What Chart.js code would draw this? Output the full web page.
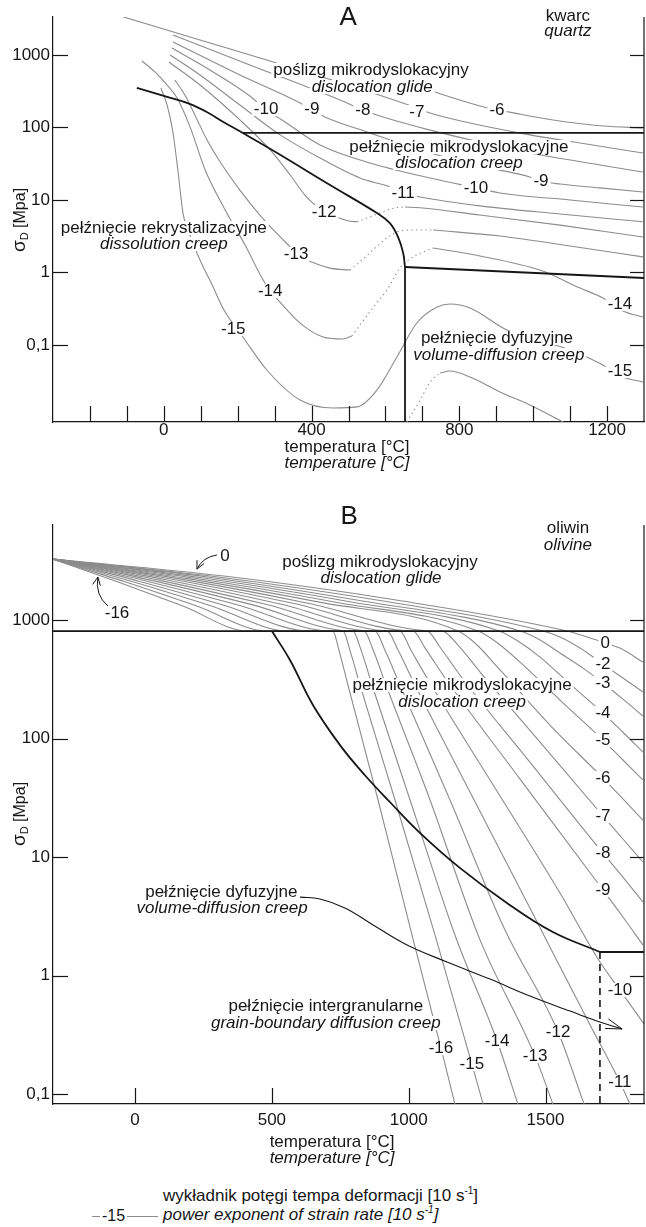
<!DOCTYPE html>
<html lang="pl">
<head>
<meta charset="UTF-8">
<title>Mapy mechanizmów deformacji – kwarc i oliwin</title>
<script src="https://cdn.jsdelivr.net/npm/chart.js"></script>
<style>
  html, body { margin: 0; padding: 0; background: #fff; }
  body { position: relative; width: 646px; height: 1227px; overflow: hidden;
         font-family: "Liberation Sans Narrow", "Liberation Sans", Arial, sans-serif; color: #161616; }
  #mapA { position: absolute; left: 0; top: 0; }
  #mapB { position: absolute; left: 0; top: 480px; }
  #keyLine { position: absolute; left: 92px; top: 1216px; width: 66px; height: 1px; background: #8c8c8c; }
  #keyNum { position: absolute; left: 100px; top: 1206px; font-size: 16px; line-height: 20px; background: #fff; padding: 0 2px; }
  #keyText { position: absolute; left: 163px; top: 1186px; font-size: 17px; line-height: 19px; }
  #keyText sup { font-size: 10px; vertical-align: 7px; line-height: 0; }
</style>
</head>
<body>
<canvas id="mapA" width="646" height="480"></canvas>
<canvas id="mapB" width="646" height="700"></canvas>
<div id="keyLine"></div><div id="keyNum">-15</div>
<div id="keyText">
  <div>wykładnik potęgi tempa deformacji [10 s<sup>-1</sup>]</div>
  <div><i>power exponent of strain rate [10 s<sup>-1</sup>]</i></div>
</div>
<script>
// ===== A: kwarc / quartz  (temperature °C, stress MPa) =====
const quartzStressTicks = [0.1, 1, 10, 100, 1000];
const quartzTempTicks = [-200, -100, 0, 100, 200, 300, 400, 500, 600, 700, 800, 900, 1000, 1100, 1200];
const quartzTempLabels = [0, 400, 800, 1200];

const quartzGlideBoundary = [[214, 84], [1300, 84]];
const quartzCreepBoundary = [[-73, 351], [9, 264], [70, 212], [120, 160], [160, 120], [214, 84], [307, 44.5], [450, 16.1],
  [577, 6.6], [612, 4.8], [634, 3.1], [648, 1.86], [653, 1.19]];
const quartzDiffBoundaryV = [[653, 1.19], [653, 0.0087]];
const quartzDiffBoundaryH = [[653, 1.19], [1300, 0.84]];

const quartzRate6 = [[667, 400], [856, 198], [964, 153], [1054, 127], [1189, 105], [1297, 98.5]];
const quartzRate7 = [[-127, 3565], [98, 1611], [323, 728], [566, 299], [685, 186], [721, 158], [829, 115], [991, 79], [1127, 61], [1297, 44.5]];
const quartzRate8 = [[25, 1888], [233, 728], [477, 239], [539, 174], [585, 144], [721, 92], [856, 63], [1018, 42], [1181, 30.4], [1297, 24.3]];
const quartzRate9 = [[25, 1510], [206, 530], [369, 218], [401, 174], [436, 140], [558, 84], [694, 49], [856, 29.4], [991, 20.8],
  [1021, 18.3], [1073, 16.6], [1181, 14.7], [1297, 12.9]];
const quartzRate10 = [[22, 1250], [125, 621], [233, 272], [277, 174], [320, 127], [423, 57.4], [558, 32.4], [721, 20.1], [845, 14.7],
  [910, 12.5], [1100, 10], [1297, 8.0]];
const quartzRate11 = [[17, 1000], [98, 530], [206, 204], [315, 79], [423, 37.9], [531, 20.1], [620, 14.7], [648, 12.5], [694, 11.0],
  [856, 8.3], [1073, 6.4], [1297, 5.0]];
const quartzRate12a = [[14, 800], [98, 385], [206, 127], [288, 49], [342, 22.1], [382, 11.7], [412, 8.3], [434, 6.8], [469, 5.8], [504, 5.1], [523, 5.0]];
const quartzRate12Dots = [[523, 5.0], [545, 5.5], [585, 6.6], [626, 7.8], [653, 8.0]];
const quartzRate12b = [[653, 8.0], [694, 7.8], [856, 6.2], [1073, 4.5], [1297, 3.09]];
const quartzRate13a = [[30, 452], [57, 281], [84, 149], [117, 67.3], [158, 30.4], [206, 13.7], [260, 6.2], [315, 3.09], [342, 2.25],
  [358, 1.8], [388, 1.49], [450, 1.15], [504, 1.08]];
const quartzRate13Dots = [[504, 1.08], [531, 1.40], [572, 2.18], [604, 3.0], [639, 3.73], [680, 3.86], [729, 3.86]];
const quartzRate13b = [[729, 3.86], [910, 3.19], [1100, 2.32], [1297, 1.64]];
const quartzRate14a = [[-59, 826], [-24, 583], [9, 385], [36, 255], [71, 102], [112, 25.9], [166, 7.3], [220, 2.39], [266, 0.84],
  [288, 0.556], [309, 0.42], [369, 0.20], [431, 0.129], [485, 0.121], [509, 0.133]];
const quartzRate14Dots = [[509, 0.133], [531, 0.189], [572, 0.356], [604, 0.57], [639, 1.15], [675, 1.64], [729, 2.18]];
const quartzRate14b = [[729, 2.18], [856, 1.69], [1018, 1.08], [1127, 0.61], [1189, 0.445], [1243, 0.294], [1297, 0.243]];
const quartzRate15 = [[-8, 351], [9, 204], [25, 84], [38, 25.9], [52, 6.6], [76, 2.81], [98, 1.49], [131, 0.67], [163, 0.304],
  [214, 0.129], [279, 0.0452], [369, 0.0174], [458, 0.0135], [523, 0.0140], [577, 0.0239], [631, 0.0683], [685, 0.201],
  [740, 0.334], [775, 0.368], [829, 0.324], [929, 0.161], [1100, 0.0853], [1189, 0.0531], [1243, 0.0362], [1297, 0.0309]];
const quartzRate16Dots = [[658, 0.0087], [694, 0.0174], [721, 0.0309], [748, 0.0411]];
const quartzRate16 = [[748, 0.0411], [775, 0.0437], [829, 0.0362], [910, 0.0225], [991, 0.0149], [1081, 0.0087]];

const quartzRateNotes = [['-10', 277, 180], ['-9', 401, 180], ['-8', 539, 174], ['-7', 685, 164], ['-6', 902, 174],
  ['-11', 648, 12.5], ['-10', 845, 14.7], ['-9', 1021, 18.3], ['-12', 434, 6.8], ['-13', 358, 1.8], ['-14', 288, 0.556],
  ['-15', 188, 0.166], ['-14', 1235, 0.368], ['-15', 1235, 0.0437]];
const quartzFieldsPl = [['poślizg mikrodyslokacyjny', 561, 621], ['pełźnięcie mikrodyslokacyjne', 799, 53.8],
  ['pełźnięcie rekrystalizacyjne', 0, 4.11], ['pełźnięcie dyfuzyjne', 902, 0.125], ['kwarc', 1094, 3450]];
const quartzFieldsEn = [['dislocation glide', 564, 362], ['dislocation creep', 799, 32.4], ['dissolution creep', 0, 2.47],
  ['volume-diffusion creep', 907, 0.0728], ['quartz', 1094, 2140]];

// ===== B: oliwin / olivine =====
const oliveStressTicks = [0.1, 1, 10, 100, 1000];
const oliveTempTicks = [0, 500, 1000, 1500];
const oliveTempLabels = [0, 500, 1000, 1500];

const oliveGlideBoundary = [[-300, 807], [1860, 807]];
const oliveCreepBoundary = [[500, 807], [566, 460], [650, 192], [749, 88], [840, 49], [932, 29], [1041, 16], [1187, 8.1],
  [1359, 4.1], [1527, 2.33], [1699, 1.58]];
const oliveHighBoundary = [[1699, 1.58], [1860, 1.58]];
const oliveDashedBoundary = [[1699, 1.58], [1699, 0.0824]];
const oliveDiffusionArrow = [[603, 4.59], [676, 4.42], [767, 3.71], [870, 2.67], [994, 1.81], [1140, 1.30], [1297, 0.933],
  [1443, 0.671], [1590, 0.501], [1699, 0.405], [1780, 0.354]];

const oliveRate0 = [[-300, 3270], [325, 2350], [954, 1475], [1579, 807], [1652, 719], [1718, 640], [1772, 580], [1856, 442]];
const oliveRate2 = [[-300, 3270], [296, 2320], [895, 1460], [1491, 807], [1553, 719], [1626, 580], [1710, 425], [1783, 324], [1856, 247]];
const oliveRate3 = [[-300, 3270], [270, 2300], [837, 1440], [1407, 807], [1480, 678], [1553, 527], [1637, 393], [1710, 294], [1783, 215], [1856, 155]];
const oliveRate4 = [[-300, 3270], [244, 2275], [785, 1427], [1330, 807], [1399, 665], [1480, 487], [1590, 288], [1710, 164], [1783, 113], [1856, 76.9]];
const oliveRate5 = [[-300, 3270], [219, 2253], [734, 1413], [1253, 807], [1315, 665], [1407, 442], [1553, 211], [1710, 97.1], [1783, 65.9], [1856, 44.7]];
const oliveRate6 = [[-300, 3270], [193, 2236], [683, 1402], [1180, 807], [1242, 640], [1334, 379], [1516, 130], [1710, 46.4], [1783, 30.9], [1856, 20.5]];
const oliveRate7 = [[-300, 3270], [168, 2214], [632, 1388], [1100, 807], [1122, 807], [1180, 615], [1261, 364], [1480, 93.4], [1710, 22.2], [1783, 14.2], [1856, 9.08]];
const oliveRate8 = [[-300, 3270], [142, 2197], [581, 1378], [1023, 807], [1067, 807], [1114, 592], [1187, 344], [1443, 63.3], [1710, 10.8], [1783, 6.78], [1856, 4.17]];
const oliveRate9 = [[-300, 3270], [117, 2180], [530, 1367], [946, 807], [1016, 807], [1060, 580], [1133, 324], [1407, 45.5], [1710, 5.27], [1783, 3.12], [1856, 1.81]];
const oliveRate10 = [[-300, 3270], [91, 2163], [478, 1357], [870, 807], [968, 807], [1008, 558], [1078, 294], [1334, 32.7], [1553, 4.97], [1699, 1.30], [1772, 0.754], [1860, 0.390]];
const oliveRate11 = [[-300, 3270], [65, 2151], [427, 1349], [793, 807], [921, 807], [961, 558], [1023, 283], [1224, 35.4], [1443, 3.71], [1663, 0.382], [1772, 0.126], [1809, 0.0823]];
const oliveRate12 = [[-300, 3270], [40, 2138], [376, 1341], [716, 807], [877, 807], [913, 558], [968, 283], [1151, 30.3], [1352, 2.42], [1546, 0.334], [1641, 0.0823]];
const oliveRate13 = [[-300, 3270], [14, 2126], [325, 1333], [639, 807], [837, 807], [870, 558], [917, 283], [1078, 30.3], [1261, 1.99], [1462, 0.209], [1527, 0.0823]];
const oliveRate14 = [[-300, 3270], [-11, 2113], [274, 1326], [563, 807], [796, 807], [826, 558], [866, 283], [1005, 30.3], [1169, 2.20], [1323, 0.280], [1399, 0.0823]];
const oliveRate15 = [[-300, 3270], [-37, 2101], [223, 1318], [486, 807], [760, 807], [785, 558], [822, 283], [950, 30.3], [1096, 2.20], [1231, 0.179], [1272, 0.0823]];
const oliveRate16 = [[-300, 3270], [-62, 2093], [175, 1313], [413, 807], [723, 807], [745, 558], [778, 283], [888, 30.3], [1012, 2.20], [1118, 0.244], [1169, 0.0823]];

const oliveRateNotes = [['0', 1718, 640], ['-2', 1710, 425], ['-3', 1710, 294], ['-4', 1710, 164], ['-5', 1710, 97.1],
  ['-6', 1710, 46.4], ['-7', 1710, 22.2], ['-8', 1710, 10.8], ['-9', 1710, 5.27], ['-10', 1772, 0.754], ['-11', 1772, 0.126],
  ['-12', 1546, 0.334], ['-13', 1462, 0.209], ['-14', 1323, 0.280], ['-15', 1231, 0.179], ['-16', 1118, 0.244],
  ['0', 329, 3467], ['-16', -66, 1146]];
const oliveFieldsPl = [['poślizg mikrodyslokacyjny', 895, 3083], ['pełźnięcie mikrodyslokacyjne', 1195, 283],
  ['pełźnięcie dyfuzyjne', 315, 5.07], ['pełźnięcie intergranularne', 697, 0.553], ['oliwin', 1582, 5970]];
const oliveFieldsEn = [['dislocation glide', 899, 2262], ['dislocation creep', 1195, 203], ['volume-diffusion creep', 318, 3.71],
  ['grain-boundary diffusion creep', 697, 0.397], ['olivine', 1582, 4297]];
const oliveArrowNotes = [[[299, 3540], [248, 3404], [226, 2692]], [[-99, 1313], [-147, 1626], [-136, 2306]]];

// ===== drawing =====
const FONT = '"Liberation Sans Narrow", "Liberation Sans", Arial, sans-serif';
const INK = '#161616';
const GRAY = '#8c8c8c';
const FS = 17;

const pts = a => a.map(([x, y]) => ({ x, y }));
const grayLine = (d, dots) => ({ data: pts(d), borderColor: GRAY, borderWidth: 1.1, borderDash: dots ? [1.3, 3.4] : [],
  pointRadius: 0, cubicInterpolationMode: 'monotone', order: 2 });
// mode: 'straight' | 'smooth' (bezier) | 'monotone'
const inkLine = (d, w, mode, dash) => ({ data: pts(d), borderColor: INK, borderWidth: w, borderDash: dash || [],
  pointRadius: 0, tension: mode === 'smooth' ? 0.4 : 0, cubicInterpolationMode: mode === 'monotone' ? 'monotone' : 'default', order: 0 });

function seg(ctx, x1, y1, x2, y2) { ctx.beginPath(); ctx.moveTo(x1, y1); ctx.lineTo(x2, y2); ctx.stroke(); }

function boxText(ctx, text, x, y, font) {
  ctx.font = font;
  const w = ctx.measureText(text).width;
  ctx.fillStyle = '#fff';
  ctx.fillRect(x - w / 2 - 2, y - 7, w + 4, 14);
  ctx.fillStyle = INK;
  ctx.fillText(text, x, y);
}

function arrowHead(ctx, tip, from, len, spread) {
  const ang = Math.atan2(tip.y - from.y, tip.x - from.x);
  ctx.beginPath();
  ctx.moveTo(tip.x - len * Math.cos(ang - spread), tip.y - len * Math.sin(ang - spread));
  ctx.lineTo(tip.x, tip.y);
  ctx.lineTo(tip.x - len * Math.cos(ang + spread), tip.y - len * Math.sin(ang + spread));
  ctx.stroke();
}

function mapDecor(cfg) {
  return {
    id: 'mapDecor',
    afterDatasetsDraw(chart) {
      const { ctx, chartArea: a, scales: { x, y } } = chart;
      const P = ([t, s]) => ({ x: x.getPixelForValue(t), y: y.getPixelForValue(s) });
      ctx.save();
      ctx.strokeStyle = INK;
      ctx.lineWidth = 1.2;
      seg(ctx, a.right, a.top, a.right, a.bottom);
      cfg.sTicks.forEach(v => {
        const p = Math.round(y.getPixelForValue(v)) + 0.5;
        seg(ctx, a.left, p, a.left + 15, p);
        seg(ctx, a.right - 14, p, a.right, p);
      });
      cfg.tTicks.forEach(v => {
        const p = Math.round(x.getPixelForValue(v)) + 0.5;
        seg(ctx, p, a.bottom, p, a.bottom - 16);
      });
      ctx.textAlign = 'center';
      ctx.textBaseline = 'middle';
      cfg.rateNotes.forEach(([t, tv, sv]) => { const p = P([tv, sv]); boxText(ctx, t, p.x, p.y, FS + 'px ' + FONT); });
      cfg.fieldsPl.forEach(([t, tv, sv]) => { const p = P([tv, sv]); boxText(ctx, t, p.x, p.y, FS + 'px ' + FONT); });
      cfg.fieldsEn.forEach(([t, tv, sv]) => { const p = P([tv, sv]); boxText(ctx, t, p.x, p.y, 'italic ' + FS + 'px ' + FONT); });
      ctx.lineWidth = 1;
      (cfg.arrows || []).forEach(([tail, ctrl, tip]) => {
        const a0 = P(tail), c = P(ctrl), t = P(tip);
        ctx.beginPath(); ctx.moveTo(a0.x, a0.y); ctx.quadraticCurveTo(c.x, c.y, t.x, t.y); ctx.stroke();
        arrowHead(ctx, t, c, 9, 0.45);
      });
      if (cfg.endArrow) {
        const n = cfg.endArrow.length;
        arrowHead(ctx, P(cfg.endArrow[n - 1]), P(cfg.endArrow[n - 3]), 17, 0.3);
      }
      ctx.font = '26px ' + FONT;
      ctx.fillStyle = INK;
      const L = P(cfg.panel[1]);
      ctx.fillText(cfg.panel[0], L.x, L.y);
      ctx.restore();
    },
    afterDraw(chart) {
      const { ctx, chartArea: a, scales: { x, y } } = chart;
      ctx.save();
      ctx.fillStyle = INK;
      ctx.textAlign = 'center';
      ctx.textBaseline = 'middle';
      const tx = x.getPixelForValue(cfg.titleT);
      ctx.font = FS + 'px ' + FONT;
      ctx.fillText('temperatura [°C]', tx, a.bottom + cfg.titleDy);
      ctx.font = 'italic ' + FS + 'px ' + FONT;
      ctx.fillText('temperature [°C]', tx, a.bottom + cfg.titleDy + 16);
      ctx.translate(21, y.getPixelForValue(cfg.titleS));
      ctx.rotate(-Math.PI / 2);
      ctx.textAlign = 'left';
      const f1 = '19px ' + FONT, f2 = '11px ' + FONT, f3 = '16px ' + FONT;
      ctx.font = f1; const w1 = ctx.measureText('σ').width;
      ctx.font = f2; const w2 = ctx.measureText('D').width;
      ctx.font = f3; const w3 = ctx.measureText(' [Mpa]').width;
      let sx = -(w1 + w2 + w3) / 2;
      ctx.font = f1; ctx.fillText('σ', sx, -1); sx += w1;
      ctx.font = f2; ctx.fillText('D', sx, 4); sx += w2;
      ctx.font = f3; ctx.fillText(' [Mpa]', sx, 0);
      ctx.restore();
    }
  };
}

function mapChart(id, cfg) {
  const tickFont = { family: FONT, size: FS };
  return new Chart(document.getElementById(id), {
    type: 'line',
    data: { datasets: cfg.datasets },
    options: {
      responsive: false,
      animation: false,
      events: [],
      layout: { padding: { left: 0, right: 2, top: cfg.top, bottom: 0 } },
      plugins: { legend: { display: false }, tooltip: { enabled: false } },
      scales: {
        x: {
          type: 'linear', min: cfg.tMin, max: cfg.tMax,
          afterFit: s => { s.height = cfg.xHeight; },
          afterBuildTicks: s => { s.ticks = cfg.tLabels.map(v => ({ value: v })); },
          ticks: { padding: cfg.xPad, color: INK, font: tickFont, maxRotation: 0, autoSkip: false, callback: v => String(v) },
          grid: { display: false, drawTicks: false },
          border: { color: INK, width: 1.2 }
        },
        y: {
          type: 'logarithmic', min: cfg.sMin, max: cfg.sMax,
          afterFit: s => { s.width = 53; },
          afterBuildTicks: s => { s.ticks = cfg.sTicks.map(v => ({ value: v })); },
          ticks: { padding: 3, color: INK, font: tickFont, callback: v => String(v).replace('.', ',') },
          grid: { display: false, drawTicks: false },
          border: { color: INK, width: 1.2 }
        }
      }
    },
    plugins: [mapDecor(cfg)]
  });
}

mapChart('mapA', {
  top: 17, xHeight: 58, xPad: -2, tMin: -300, tMax: 1300, sMin: 0.00867, sMax: 3340,
  sTicks: quartzStressTicks, tTicks: quartzTempTicks, tLabels: quartzTempLabels,
  titleT: 496, titleDy: 25, titleS: 5.3,
  rateNotes: quartzRateNotes, fieldsPl: quartzFieldsPl, fieldsEn: quartzFieldsEn,
  panel: ['A', [499, 3236]],
  datasets: [
    inkLine(quartzGlideBoundary, 1.8, 'straight'),
    inkLine(quartzCreepBoundary, 1.8, 'smooth'),
    inkLine(quartzDiffBoundaryV, 1.8, 'straight'),
    inkLine(quartzDiffBoundaryH, 1.8, 'straight'),
    grayLine(quartzRate6), grayLine(quartzRate7), grayLine(quartzRate8), grayLine(quartzRate9),
    grayLine(quartzRate10), grayLine(quartzRate11),
    grayLine(quartzRate12a), grayLine(quartzRate12Dots, true), grayLine(quartzRate12b),
    grayLine(quartzRate13a), grayLine(quartzRate13Dots, true), grayLine(quartzRate13b),
    grayLine(quartzRate14a), grayLine(quartzRate14Dots, true), grayLine(quartzRate14b),
    grayLine(quartzRate15), grayLine(quartzRate16Dots, true), grayLine(quartzRate16)
  ]
});

mapChart('mapB', {
  top: 45, xHeight: 76, xPad: 6, tMin: -300, tMax: 1860, sMin: 0.0824, sMax: 6340,
  sTicks: oliveStressTicks, tTicks: oliveTempTicks, tLabels: oliveTempLabels,
  titleT: 720, titleDy: 38, titleS: 23.1,
  rateNotes: oliveRateNotes, fieldsPl: oliveFieldsPl, fieldsEn: oliveFieldsEn,
  arrows: oliveArrowNotes, endArrow: oliveDiffusionArrow,
  panel: ['B', [782, 7396]],
  datasets: [
    inkLine(oliveGlideBoundary, 1.8, 'straight'),
    inkLine(oliveCreepBoundary, 1.8, 'smooth'),
    inkLine(oliveHighBoundary, 1.8, 'straight'),
    inkLine(oliveDashedBoundary, 1.6, 'straight', [7, 5]),
    inkLine(oliveDiffusionArrow, 1.1, 'smooth'),
    grayLine(oliveRate0), grayLine(oliveRate2), grayLine(oliveRate3), grayLine(oliveRate4),
    grayLine(oliveRate5), grayLine(oliveRate6), grayLine(oliveRate7), grayLine(oliveRate8),
    grayLine(oliveRate9), grayLine(oliveRate10), grayLine(oliveRate11), grayLine(oliveRate12),
    grayLine(oliveRate13), grayLine(oliveRate14), grayLine(oliveRate15), grayLine(oliveRate16)
  ]
});
</script>
</body>
</html>
